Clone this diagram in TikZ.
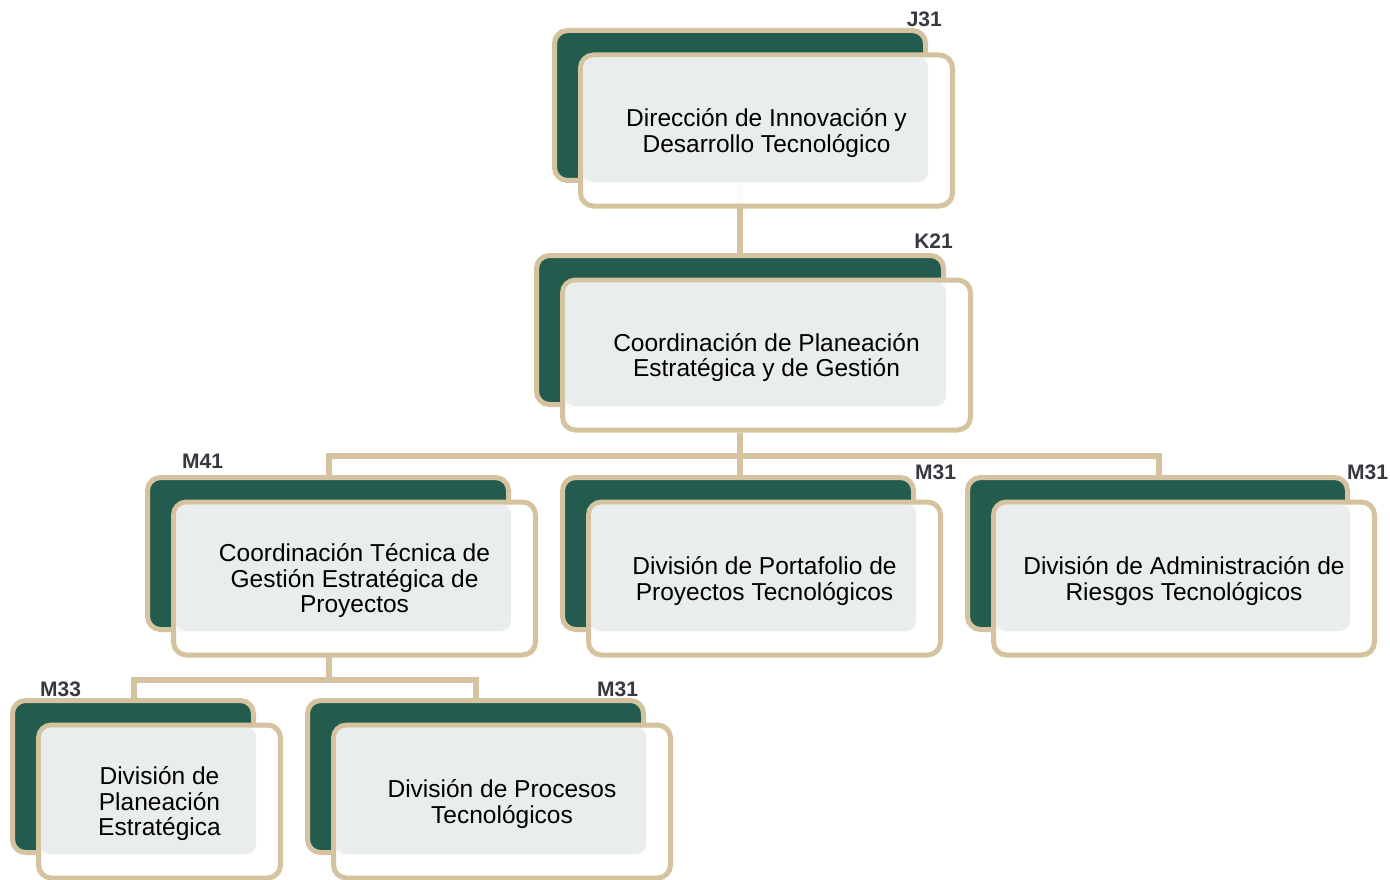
\documentclass[tikz,border=0pt]{standalone}
\usepackage{fontspec}
\setmainfont{Liberation Sans}
\usetikzlibrary{calc}
\definecolor{dgreen}{RGB}{35,92,78}
\definecolor{tan}{RGB}{213,194,158}
\definecolor{lgray}{RGB}{233,237,237}
\definecolor{lblc}{RGB}{54,58,64}
\tikzset{
  backbox/.style={draw=tan, line width=5pt, fill=dgreen, rounded corners=13pt, inner sep=0pt, outer sep=0pt},
  frontbox/.style={draw=tan, line width=5pt, fill=white, fill opacity=0.93, draw opacity=1, rounded corners=13pt, inner sep=0pt, outer sep=0pt},
  graybox/.style={fill=lgray, rounded corners=10pt},
  boxtext/.style={align=center, font=\fontsize{24.5}{25.5}\selectfont, text=black, inner sep=0pt},
  codelbl/.style={font=\fontsize{21}{21}\selectfont\bfseries, text=lblc, inner sep=0pt},
  link/.style={draw=tan, line width=6pt}
}
\newcommand\orgunit[6]{%
  \node[backbox, minimum width={#4-#2-5}, minimum height={#5-#3-5}] (#1b) at ({(#2+#4)/2},{(#3+#5)/2}) {};
  \node[frontbox, minimum width={#4-#2-4}, minimum height={#5-#3-4}] (#1f) at ({(#2+#4)/2+26.5},{(#3+#5)/2+25}) {};
  \fill[graybox] ($(#1f.north west)+(2.5,2.5)$) rectangle (#4,#5-1);
  \node[boxtext] (#1t) at ($(#1f.center)+(0,2.5)$) {#6};
}
\begin{document}
\begin{tikzpicture}[x=1pt,y=-1pt]
\useasboundingbox (0,0) rectangle (1390,880);
% connector coordinates
\coordinate (b1l) at (328.5,455.5);
\coordinate (b1m) at (739.5,455.5);
\coordinate (b1r) at (1158.5,455.5);
\coordinate (b2m) at (329,679.5);
\coordinate (b2l) at (134,679.5);
\coordinate (b2r) at (475.5,679.5);
\coordinate (j31c) at (739.5,183);
\coordinate (k21t) at (739.5,253);
\coordinate (k21c) at (739.5,433);
\coordinate (m41c) at (329,657);
% connectors (behind boxes)
\draw[link] (j31c) -- (k21t);
\draw[link] (k21c) -- (b1m) -- (739.5,478);
\draw[link] (328.5,478) -- (b1l) -- (b1r) -- (1158.5,478);
\draw[link] (m41c) -- (b2m);
\draw[link] (134,700) -- (b2l) -- (b2r) -- (475.5,700);
% boxes
\orgunit{j}{552}{28}{928}{183}{Dirección de Innovación y\\Desarrollo Tecnológico}
\orgunit{k}{534}{253}{946}{407}{Coordinación de Planeación\\Estratégica y de Gestión}
\orgunit{ma}{145}{475}{511}{632}{Coordinación Técnica de\\Gestión Estratégica de\\Proyectos}
\orgunit{mb}{560}{475}{916}{632}{División de Portafolio de\\Proyectos Tecnológicos}
\orgunit{mc}{965}{475}{1350}{632}{División de Administración de\\Riesgos Tecnológicos}
\orgunit{md}{10}{698}{256}{855}{División de\\Planeación\\Estratégica}
\orgunit{me}{305}{698}{646}{855}{División de Procesos\\Tecnológicos}
% codes
\node[codelbl, anchor=base east] (lj) at (942,27) {J31};
\node[codelbl, anchor=base east] (lk) at (953,248) {K21};
\node[codelbl, anchor=base west] (lma) at (182,468) {M41};
\node[codelbl, anchor=base west] (lmb) at (915,479) {M31};
\node[codelbl, anchor=base west] (lmc) at (1347,479) {M31};
\node[codelbl, anchor=base west] (lmd) at (40,696) {M33};
\node[codelbl, anchor=base west] (lme) at (597,696) {M31};
\end{tikzpicture}
\end{document}
